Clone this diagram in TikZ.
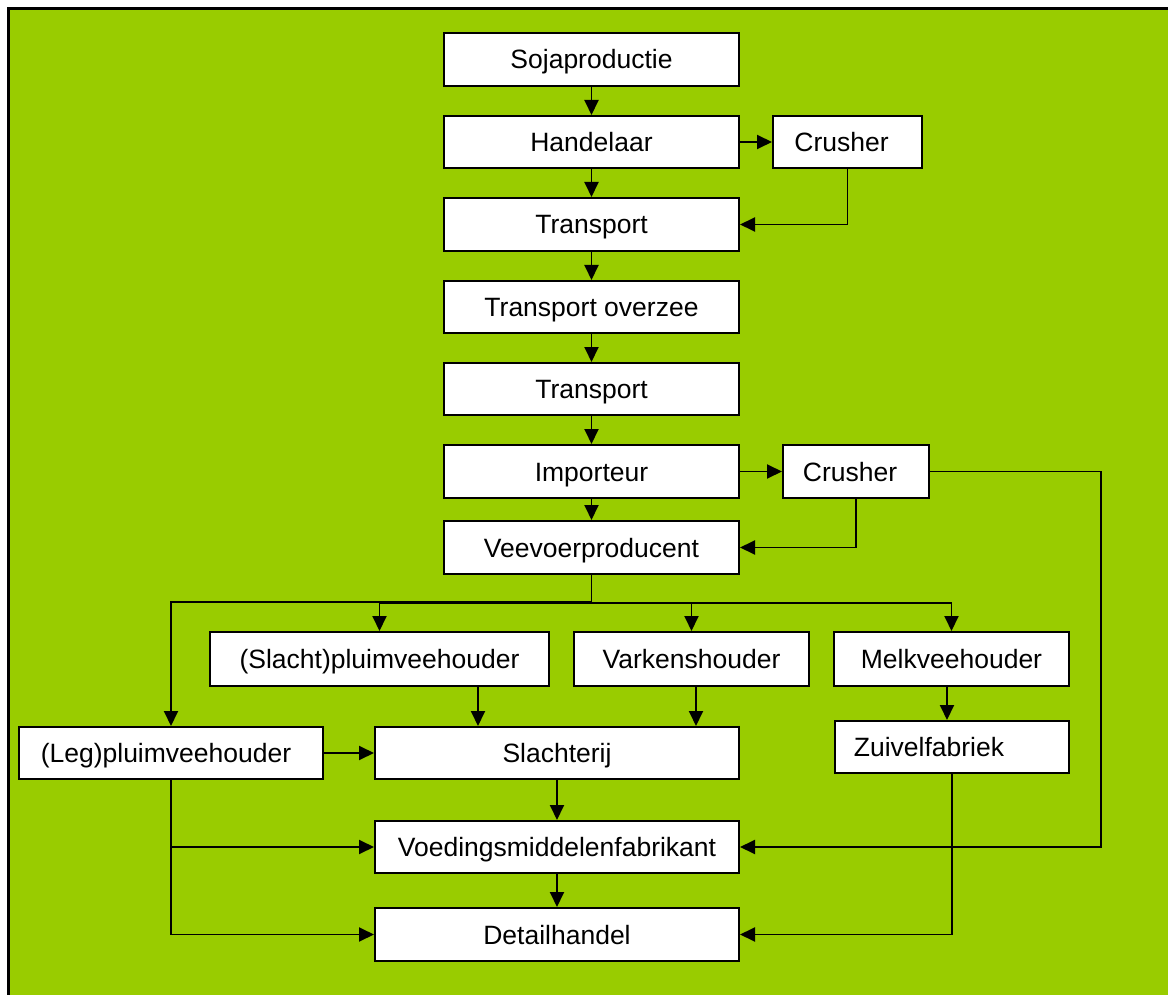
\documentclass[tikz,border=0pt]{standalone}
\usepackage{fontspec}
\setmainfont{Liberation Sans}
\usetikzlibrary{arrows.meta}
\definecolor{bggreen}{RGB}{153,204,0}
\tikzset{
  box/.style={draw=black, fill=white, line width=2pt, inner sep=0pt,
    minimum height=52pt, text height=19pt, text depth=0pt,
    font=\fontsize{26.5}{30}\selectfont},
  conn/.style={line width=1.9pt, draw=black},
  arr/.style={conn, -{Triangle[length=15pt,width=14pt]}}
}
\begin{document}
\begin{tikzpicture}[x=1pt,y=-1pt]
\useasboundingbox (0,0) rectangle (1168,995);
\fill[white] (0,0) rectangle (1168,995);
\fill[bggreen] (8.5,8.5) rectangle (1168,995);
\draw[line width=3pt] (8.5,995) -- (8.5,8.5) -- (1168,8.5);

% nodes
\node[box, minimum width=295pt, minimum height=53pt] (soja) at (591.5,59.5) {Sojaproductie};
\node[box, minimum width=295pt] (handel) at (591.5,142) {Handelaar};
\node[box, minimum width=149pt] (crush1) at (847.5,142) {Crusher\hspace*{12pt}};
\node[box, minimum width=295pt, minimum height=53pt] (trans1) at (591.5,224.5) {Transport};
\node[box, minimum width=295pt] (overzee) at (591.5,307) {Transport overzee};
\node[box, minimum width=295pt] (trans2) at (591.5,389) {Transport};
\node[box, minimum width=295pt, minimum height=53pt] (import) at (591.5,471.5) {Importeur};
\node[box, minimum width=146pt, minimum height=53pt] (crush2) at (856,471.5) {Crusher\hspace*{12pt}};
\node[box, minimum width=295pt, minimum height=53pt] (veevoer) at (591.5,547.5) {Veevoerproducent};
\node[box, minimum width=339pt, minimum height=54pt] (slacht) at (379.5,659) {(Slacht)pluimveehouder};
\node[box, minimum width=235pt, minimum height=54pt] (varkens) at (691.5,659) {Varkenshouder};
\node[box, minimum width=235pt, minimum height=54pt] (melk) at (951.5,659) {Melkveehouder};
\node[box, minimum width=304pt] (leg) at (171,753) {(Leg)pluimveehouder\hspace*{10pt}};
\node[box, minimum width=364pt] (slachterij) at (557,753) {Slachterij};
\node[box, minimum width=234pt] (zuivel) at (952,747) {Zuivelfabriek\hspace*{46pt}};
\node[box, minimum width=364pt] (voed) at (557,847) {Voedingsmiddelenfabrikant};
\node[box, minimum width=364pt, minimum height=53pt] (detail) at (557,934.5) {Detailhandel};

% helper coordinates
\coordinate (br) at (591.5,603);
\coordinate (c2r) at (1101,471.5);
\coordinate (sx) at (478,0);
\coordinate (vx) at (696,0);
\coordinate (mx) at (947,0);

% connectors
\draw[arr] (soja) -- (handel);
\draw[arr] (handel) -- (crush1);
\draw[arr] (handel) -- (trans1);
\draw[arr] (crush1.south) |- (trans1.east);
\draw[arr] (trans1) -- (overzee);
\draw[arr] (overzee) -- (trans2);
\draw[arr] (trans2) -- (import);
\draw[arr] (import) -- (crush2);
\draw[arr] (import) -- (veevoer);
\draw[arr] (crush2.south) |- (veevoer.east);
\draw[arr] (crush2.east) -- (c2r) |- (voed.east);
\draw[conn] (veevoer.south) -- (br);
\draw[arr] ([yshift=1pt]br) -| (leg.north);
\draw[arr] (br) -| (slacht.north);
\draw[arr] (br) -| (varkens.north);
\draw[arr] (br) -| (melk.north);
\draw[arr] (slacht.south -| sx) -- (slachterij.north -| sx);
\draw[arr] (varkens.south -| vx) -- (slachterij.north -| vx);
\draw[arr] (leg) -- (slachterij);
\draw[arr] (melk.south -| mx) -- (zuivel.north -| mx);
\draw[arr] (slachterij) -- (voed);
\draw[arr] (voed) -- (detail);
\draw[arr] (leg.south) |- (voed.west);
\draw[arr] (leg.south) |- (detail.west);
\draw[arr] (zuivel.south) |- (detail.east);
\end{tikzpicture}
\end{document}
